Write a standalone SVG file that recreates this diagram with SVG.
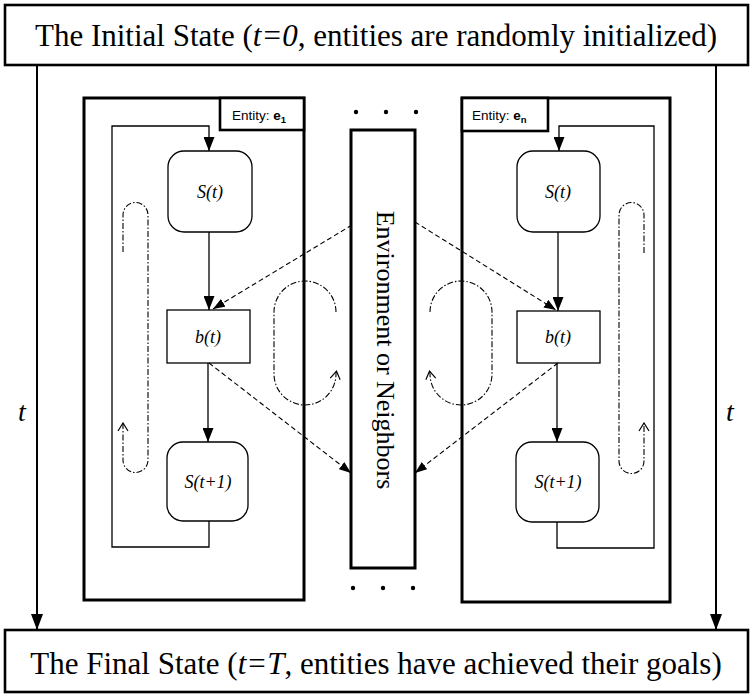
<svg xmlns="http://www.w3.org/2000/svg" width="752" height="695" viewBox="0 0 752 695">
  <style>
    .frame { fill: #fff; stroke: #000; stroke-width: 2.6; }
    .entity { fill: #fff; stroke: #000; stroke-width: 3; }
    .node { fill: #fff; stroke: #000; stroke-width: 1.3; }
    .flow { fill: none; stroke: #000; stroke-width: 1.3; }
    .time { fill: none; stroke: #000; stroke-width: 2; }
    .dash { fill: none; stroke: #000; stroke-width: 1.1; stroke-dasharray: 5 3; }
    .cycle { fill: none; stroke: #000; stroke-width: 1.1; stroke-dasharray: 6 2 1.5 2; }
    .title { font-family: "Liberation Serif", "Times New Roman", serif; font-size: 31px; fill: #000; }
    .env { font-family: "Liberation Serif", "Times New Roman", serif; font-size: 26px; fill: #000; }
    .axis { font-family: "Liberation Serif", "Times New Roman", serif; font-style: italic; font-size: 28px; fill: #000; }
    .var { font-family: "Liberation Serif", "Times New Roman", serif; font-style: italic; font-size: 18px; fill: #000; }
    .lbl { font-family: "Liberation Sans", Arial, sans-serif; font-size: 13.5px; fill: #000; }
  </style>
  <defs>
    <marker id="headBig" markerUnits="userSpaceOnUse" viewBox="0 0 16 12" refX="16" refY="6" markerWidth="16" markerHeight="12" orient="auto">
      <path d="M0,0 L16,6 L0,12 Z" fill="#000"/>
    </marker>
    <marker id="head" markerUnits="userSpaceOnUse" viewBox="0 0 14 11" refX="14" refY="5.5" markerWidth="14" markerHeight="11" orient="auto">
      <path d="M0,0 L14,5.5 L0,11 Z" fill="#000"/>
    </marker>
    <marker id="headSmall" markerUnits="userSpaceOnUse" viewBox="0 0 12 9" refX="12" refY="4.5" markerWidth="12" markerHeight="9" orient="auto">
      <path d="M0,0 L12,4.5 L0,9 Z" fill="#000"/>
    </marker>
    <marker id="chevron" markerUnits="userSpaceOnUse" viewBox="-1 -1 10 12" refX="8" refY="5" markerWidth="10" markerHeight="12" orient="auto">
      <path d="M0,0 L8,5 L0,10" fill="none" stroke="#000" stroke-width="1.2"/>
    </marker>
  </defs>

  <!-- start and end states -->
  <g id="initial-state">
    <rect class="frame" x="5" y="5" width="743" height="60"/>
    <text class="title" x="376" y="46" text-anchor="middle">The Initial State (<tspan font-style="italic">t=0</tspan>, entities are randomly initialized)</text>
  </g>
  <g id="final-state">
    <rect class="frame" x="5" y="630" width="743" height="62"/>
    <text class="title" x="376" y="674" text-anchor="middle">The Final State (<tspan font-style="italic">t=T</tspan>, entities have achieved their goals)</text>
  </g>

  <!-- entity e1 -->
  <g id="entity-e1">
    <rect class="entity" x="84" y="98" width="220" height="502"/>
    <rect class="frame" x="220" y="98" width="84" height="32"/>
    <text class="lbl" x="232" y="120">Entity: <tspan font-weight="bold">e<tspan font-size="9.5" dy="3">1</tspan></tspan></text>
  </g>

  <!-- entity en -->
  <g id="entity-en">
    <rect class="entity" x="462" y="98" width="208" height="504"/>
    <rect class="frame" x="462" y="98" width="86" height="33"/>
    <text class="lbl" x="472" y="120">Entity: <tspan font-weight="bold">e<tspan font-size="9.5" dy="3">n</tspan></tspan></text>
  </g>

  <!-- shared environment -->
  <g id="environment">
    <rect class="entity" x="351" y="130" width="64" height="438"/>
    <text class="env" transform="translate(377,350) rotate(90)" text-anchor="middle">Environment or Neighbors</text>
    <circle cx="356" cy="112" r="2.2"/>
    <circle cx="386" cy="112" r="2.2"/>
    <circle cx="416" cy="112" r="2.2"/>
    <circle cx="353" cy="588" r="2.2"/>
    <circle cx="383" cy="588" r="2.2"/>
    <circle cx="413" cy="588" r="2.2"/>
  </g>

  <!-- nodes of entity e1 -->
  <g id="e1-state">
    <rect class="node" x="168" y="151" width="84" height="81" rx="16"/>
    <text class="var" x="210" y="198" text-anchor="middle">S(t)</text>
  </g>
  <g id="e1-behavior">
    <rect class="node" x="167" y="310" width="83" height="53"/>
    <text class="var" x="208" y="343" text-anchor="middle">b(t)</text>
  </g>
  <g id="e1-next-state">
    <rect class="node" x="167" y="442" width="81" height="79" rx="16"/>
    <text class="var" x="208" y="488" text-anchor="middle">S(t+1)</text>
  </g>

  <!-- nodes of entity en -->
  <g id="en-state">
    <rect class="node" x="517" y="151" width="83" height="81" rx="16"/>
    <text class="var" x="558" y="198" text-anchor="middle">S(t)</text>
  </g>
  <g id="en-behavior">
    <rect class="node" x="517" y="311" width="83" height="52"/>
    <text class="var" x="558" y="343" text-anchor="middle">b(t)</text>
  </g>
  <g id="en-next-state">
    <rect class="node" x="516" y="442" width="83" height="80" rx="16"/>
    <text class="var" x="558" y="488" text-anchor="middle">S(t+1)</text>
  </g>

  <!-- time axis labels -->
  <g id="time-labels">
    <text class="axis" x="22" y="421" text-anchor="middle">t</text>
    <text class="axis" x="730" y="421" text-anchor="middle">t</text>
  </g>

  <g id="connectors">
    <!-- time runs from the initial to the final state -->
    <line class="time" x1="37" y1="65" x2="37" y2="630" marker-end="url(#headBig)"/>
    <line class="time" x1="716" y1="65" x2="716" y2="630" marker-end="url(#headBig)"/>

    <!-- update cycle of e1 -->
    <path class="flow" d="M209,232 V310" marker-end="url(#head)"/>
    <path class="flow" d="M208,363 V442" marker-end="url(#head)"/>
    <path class="flow" d="M209,521 V547 H112 V126 H209 V151" marker-end="url(#head)"/>

    <!-- update cycle of en -->
    <path class="flow" d="M558,232 V311" marker-end="url(#head)"/>
    <path class="flow" d="M557,363 V442" marker-end="url(#head)"/>
    <path class="flow" d="M557,522 V548 H654 V126 H559 V151" marker-end="url(#head)"/>

    <!-- interaction with the environment -->
    <path class="dash" d="M352,225 L213,309" marker-end="url(#headSmall)"/>
    <path class="dash" d="M415,222 L556,310" marker-end="url(#headSmall)"/>
    <path class="dash" d="M209,363 L351,473" marker-end="url(#headSmall)"/>
    <path class="dash" d="M558,363 L415,473" marker-end="url(#headSmall)"/>

    <!-- repetition cycles -->
    <path class="cycle" d="M123,252 V215 A12.5,12.5 0 0 1 148,215 V460 A12.5,12.5 0 0 1 123,460 V423" marker-end="url(#chevron)"/>
    <path class="cycle" d="M644,253 V215 A12.5,12.5 0 0 0 619,215 V461 A12.5,12.5 0 0 0 644,461 V423" marker-end="url(#chevron)"/>
    <path class="cycle" d="M336,312 A31,31 0 0 0 274,312 V374 A31,31 0 0 0 336,374 L336.5,371" marker-end="url(#chevron)"/>
    <path class="cycle" d="M430,312 A31,31 0 0 1 492,312 V374 A31,31 0 0 1 430,374 L429.5,371" marker-end="url(#chevron)"/>
  </g>
</svg>
